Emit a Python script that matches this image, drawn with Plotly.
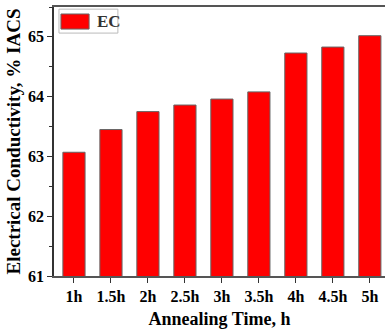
import plotly.graph_objects as go

categories = ["1h", "1.5h", "2h", "2.5h", "3h", "3.5h", "4h", "4.5h", "5h"]
ec_values = [63.07, 63.45, 63.75, 63.86, 63.96, 64.08, 64.73, 64.83, 65.02]
y_ticks = [61, 62, 63, 64, 65]
series_name = "EC"

font_fam = "Liberation Serif, Times New Roman, serif"
bar_color = "#ff0000"

fig = go.Figure()
fig.add_trace(go.Bar(
    x=list(range(len(categories))), y=ec_values, name=series_name,
    marker=dict(color=bar_color, line=dict(color="#666666", width=1)),
    width=0.6, showlegend=False,
))

# manual legend (larger swatch than plotly's default legend symbol)
fig.add_shape(type="rect", xref="paper", yref="paper",
              x0=0.015, x1=0.193, y0=0.903, y1=0.992,
              line=dict(color="#bbbbbb", width=1), fillcolor="white", layer="above")
fig.add_shape(type="rect", xref="paper", yref="paper",
              x0=0.021, x1=0.106, y0=0.918, y1=0.974,
              line=dict(color="#666666", width=1), fillcolor=bar_color, layer="above")
fig.add_annotation(xref="paper", yref="paper", x=0.124, y=0.947,
                   xanchor="left", yanchor="middle", showarrow=False,
                   text=series_name,
                   font=dict(size=17, family=font_fam, color="#333333", weight="bold"))

fig.update_layout(
    width=385, height=333,
    margin=dict(l=54, r=0, t=7, b=57),
    paper_bgcolor="white", plot_bgcolor="white",
    font=dict(family=font_fam, color="black"),
    showlegend=False,
    bargap=0.4,
)
fig.update_xaxes(
    range=[-0.54, 8.41],
    tickmode="array", tickvals=list(range(len(categories))), ticktext=categories,
    ticks="outside", ticklen=5, tickwidth=1.2, tickcolor="#333",
    showline=True, linecolor="#555", linewidth=1.5, mirror=True,
    showgrid=False, zeroline=False,
    tickfont=dict(size=16, family=font_fam, color="black", weight="bold"),
    title=dict(text="Annealing Time, h", standoff=8,
               font=dict(size=18, family=font_fam, color="black", weight="bold")),
)
fig.update_yaxes(
    range=[61, 65.5],
    tickmode="array", tickvals=y_ticks, ticktext=[str(v) for v in y_ticks],
    ticks="outside", ticklen=5, tickwidth=1.2, tickcolor="#333",
    minor=dict(tickmode="array", tickvals=[61.5, 62.5, 63.5, 64.5, 65.5],
               ticks="outside", ticklen=3, tickwidth=1, tickcolor="#333"),
    showline=True, linecolor="#333", linewidth=1.5,
    showgrid=False, zeroline=False,
    tickfont=dict(size=16, family=font_fam, color="black", weight="bold"),
    title=dict(text="Electrical Conductivity, % IACS", standoff=2,
               font=dict(size=19, family=font_fam, color="black", weight="bold")),
)

fig.write_html("out.html")
